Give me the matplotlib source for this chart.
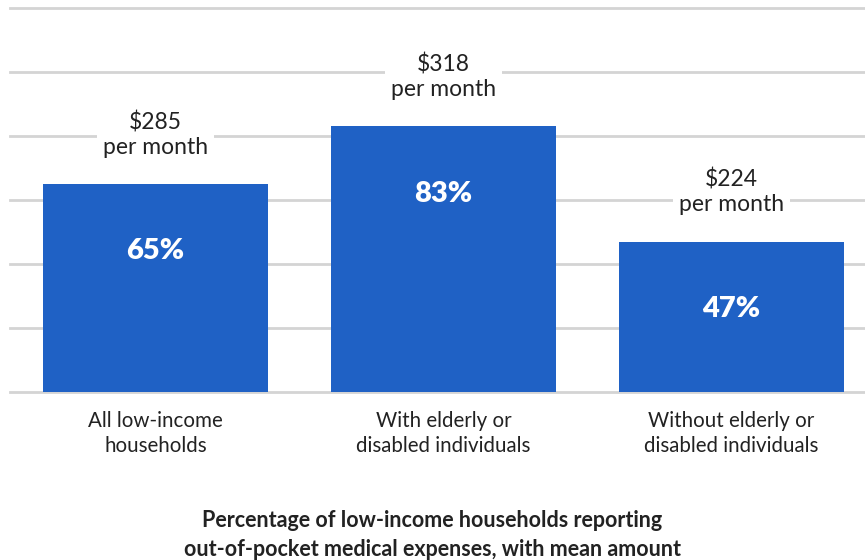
import numpy as np
import matplotlib.pyplot as plt

categories = ["All low-income\nhouseholds",
              "With elderly or\ndisabled individuals",
              "Without elderly or\ndisabled individuals"]
percents = [65, 83, 47]
monthly_amounts = [285, 318, 224]

title = ("Percentage of low-income households reporting\n"
         "out-of-pocket medical expenses, with mean amount")

bar_color = "#1f61c5"
text_color = "#222222"
grid_color = "#d4d4d4"

plt.rcParams["font.family"] = ["Lato", "DejaVu Sans"]

fig = plt.figure(figsize=(8.65, 5.6), dpi=100)
ax = fig.add_axes([10 / 865, 1 - 392 / 560, 855 / 865, 384 / 560])

x = np.arange(len(categories))
ax.bar(x, percents, width=0.78, color=bar_color, zorder=2)

ax.set_xlim(-0.505, 2.464)
ax.set_ylim(0, 120)
ax.set_yticks(np.arange(0, 121, 20))
ax.yaxis.grid(True, color=grid_color, linewidth=2, zorder=0)
for gl in ax.get_ygridlines():
    gl.set_clip_on(False)
ax.tick_params(left=False, labelleft=False, bottom=False)
for s in ax.spines.values():
    s.set_visible(False)

ax.set_xticks(x)
ax.set_xticklabels(categories, fontsize=14.8, color=text_color, linespacing=1.3)
ax.tick_params(axis="x", pad=10)

for xi, p, amt in zip(x, percents, monthly_amounts):
    ax.text(xi, p - 21, f"{p}%", ha="center", va="center", color="white",
            fontsize=21, fontweight="heavy", zorder=3)
    ax.annotate(f"${amt}\nper month", xy=(xi, p), xytext=(0, 19),
                textcoords="offset points", ha="center", va="bottom",
                fontsize=16.5, color=text_color, linespacing=1.2,
                multialignment="center", zorder=3, annotation_clip=False,
                bbox=dict(boxstyle="square,pad=0.25", fc="white", ec="none"))

fig.text(0.5, 1 - 535 / 560, title, ha="center", va="center", fontsize=15.5,
         fontweight="bold", color=text_color, linespacing=1.5)

fig.savefig("out.png", dpi=100)
